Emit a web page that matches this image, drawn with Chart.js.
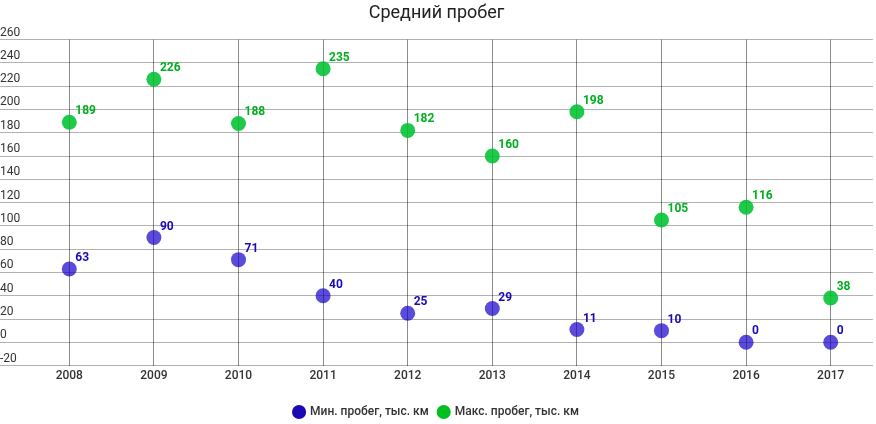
<!DOCTYPE html>
<html>
<head>
<meta charset="utf-8">
<script src="https://cdn.jsdelivr.net/npm/chart.js@4"></script>
<style>
  html, body { margin: 0; padding: 0; background: #fff; }
  #wrap { width: 876px; height: 424px; }
</style>
</head>
<body>
<div id="wrap"><canvas id="mileageChart"></canvas></div>
<script>
// chart data
const years = ["2008", "2009", "2010", "2011", "2012", "2013", "2014", "2015", "2016", "2017"];
const minMileage = [63, 90, 71, 40, 25, 29, 11, 10, 0, 0];
const maxMileage = [189, 226, 188, 235, 182, 160, 198, 105, 116, 38];
const seriesNames = ["Мин. пробег, тыс. км", "Макс. пробег, тыс. км"];
const chartTitle = "Средний пробег";

const legendColors = ["#1a0ab5", "#00c020"];
const labelColors = ["#1a0ab5", "#00b020"];

// draws the value next to every point, up and to the right
const valueLabels = {
  id: "valueLabels",
  afterDatasetsDraw(chart) {
    const ctx = chart.ctx;
    ctx.save();
    ctx.font = "bold 12px Roboto";
    ctx.textAlign = "left";
    ctx.textBaseline = "middle";
    chart.data.datasets.forEach((ds, i) => {
      const meta = chart.getDatasetMeta(i);
      ctx.fillStyle = labelColors[i];
      meta.data.forEach((pt, j) => {
        ctx.fillText(ds.data[j], pt.x + 6, pt.y - 11);
      });
    });
    ctx.restore();
  },
};

Chart.defaults.font.family = "Roboto";
Chart.defaults.color = "#333";

new Chart(document.getElementById("mileageChart"), {
  type: "line",
  data: {
    labels: years,
    datasets: [
      {
        label: seriesNames[0],
        data: minMileage,
        showLine: false,
        pointRadius: 7.5,
        pointHoverRadius: 7.5,
        pointBorderWidth: 0,
        pointBackgroundColor: "rgba(20, 0, 200, 0.7)",
        borderColor: "rgba(20, 0, 200, 0.7)",
      },
      {
        label: seriesNames[1],
        data: maxMileage,
        showLine: false,
        pointRadius: 7.5,
        pointHoverRadius: 7.5,
        pointBorderWidth: 0,
        pointBackgroundColor: "rgba(0, 195, 50, 0.88)",
        borderColor: "rgba(0, 195, 50, 0.88)",
      },
    ],
  },
  options: {
    responsive: true,
    maintainAspectRatio: false,
    animation: false,
    layout: {
      autoPadding: false,
      padding: { left: 0, right: 3, top: 0, bottom: -4 },
    },
    plugins: {
      title: {
        display: true,
        text: chartTitle,
        color: "#222",
        font: { size: 18, weight: "normal" },
        padding: { top: 3, bottom: 15 },
      },
      legend: {
        position: "bottom",
        labels: {
          usePointStyle: true,
          pointStyle: "circle",
          boxWidth: 10,
          boxHeight: 10,
          padding: 10,
          color: "#333",
          font: { size: 12, weight: 500 },
          generateLabels(chart) {
            return chart.data.datasets.map((ds, i) => ({
              text: ds.label,
              fillStyle: legendColors[i],
              strokeStyle: legendColors[i],
              lineWidth: 0,
              pointStyle: "circle",
              datasetIndex: i,
              fontColor: "#333",
            }));
          },
        },
      },
      tooltip: { enabled: false },
    },
    scales: {
      x: {
        offset: true,
        grid: {
          offset: false,
          drawTicks: false,
          color: "rgba(0, 0, 0, 0.45)",
        },
        border: { display: false },
        ticks: { padding: 3, font: { size: 12, weight: 500 }, color: "#333" },
        afterFit(scale) {
          scale.height += 10;
        },
      },
      y: {
        min: -20,
        max: 260,
        grid: {
          color: "rgba(0, 0, 0, 0.3)",
          tickLength: 27,
        },
        border: { display: false },
        ticks: {
          stepSize: 20,
          crossAlign: "far",
          labelOffset: -7,
          padding: 0,
          font: { size: 12 },
          color: "#333",
        },
        afterFit(scale) {
          scale.width = 27;
        },
      },
    },
  },
  plugins: [valueLabels],
});
</script>
</body>
</html>
